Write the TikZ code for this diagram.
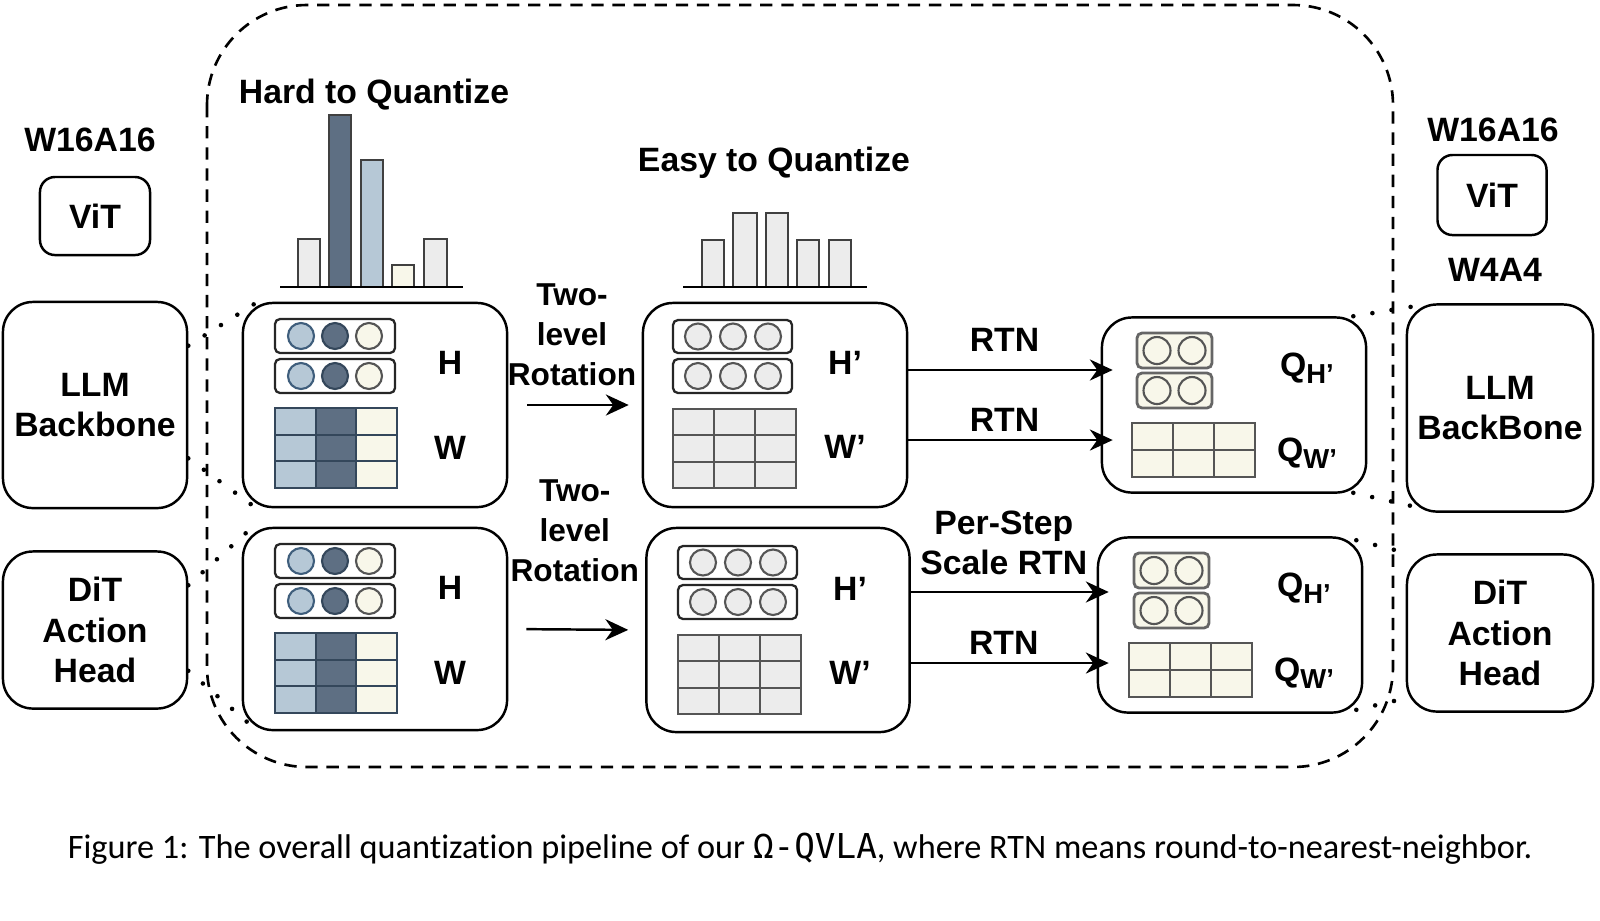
\documentclass[tikz,border=0pt]{standalone}
\usepackage{fontspec}
\setmainfont{Liberation Sans}[Ligatures=ResetAll]
\newfontfamily\capfont[Ligatures=NoCommon]{Carlito}
\newfontfamily\capmono{DejaVu Sans Mono}
\usetikzlibrary{positioning, arrows.meta, calc}

\definecolor{slateD}{HTML}{5E6F83}
\definecolor{slateL}{HTML}{B6C8D6}
\definecolor{creamC}{HTML}{F8F7EA}
\definecolor{grayL}{HTML}{ECECEC}
\definecolor{edgeB}{HTML}{3F5E7C}
\definecolor{edgeD}{HTML}{34475B}
\definecolor{edgeG}{HTML}{555555}

\begin{document}
\begin{tikzpicture}[
    x=0.01cm, y=-0.01cm,
    lbl/.style={font=\fontsize{9.6}{11.5}\selectfont\bfseries, align=center, inner sep=1pt},
    block/.style={lbl, draw, line width=0.7pt, rounded corners=0.3cm},
    smallblock/.style={block, rounded corners=0.15cm},
    stagebox/.style={draw, line width=0.7pt, rounded corners=0.3cm, minimum width=2.64cm},
    vecbox/.style={draw=black!85, fill=white, line width=0.65pt, rounded corners=0.05cm},
    qvec/.style={draw=black!60, fill=creamC, line width=0.8pt, rounded corners=0.05cm},
    dot/.style={line width=0.6pt},
    cell/.style={line width=0.6pt},
    bar/.style={draw=black!75, line width=0.5pt},
    axisline/.style={line width=0.7pt},
    arr/.style={-{Stealth[length=6.5pt, width=6pt]}, line width=0.7pt},
    zoomline/.style={line width=1.3pt, line cap=round, dash pattern=on 0pt off 5.5pt},
    frame/.style={line width=0.75pt, dash pattern=on 3.5pt off 2.5pt, rounded corners=1cm}
]
\useasboundingbox (0,0) rectangle (1600,920);

    % --- QUANTIZATION REGION ---
    \draw[frame] (207,5) rectangle (1393,767);

    % --- LEFT: FULL PRECISION ---
    \node[lbl] (w16L) at (90,140) {W16A16};
    \node[smallblock, minimum width=1.1cm, minimum height=0.78cm] (vitL) at (95,216) {ViT};
    \node[block, minimum width=1.84cm, minimum height=2.06cm] (llmL) at (95,405) {LLM\\Backbone};
    \node[block, minimum width=1.84cm, minimum height=1.57cm] (ditL) at (95,630) {DiT\\Action\\Head};

    % --- STAGE BOXES ---
    \node[stagebox, minimum height=2.04cm] (hardT) at (375,405) {};
    \node[stagebox, minimum height=2.02cm] (hardB) at (375,629) {};
    \node[stagebox, minimum height=2.04cm] (easyT) at (775,405) {};
    \node[stagebox, minimum width=2.63cm, minimum height=2.04cm] (easyB) at (778,630) {};
    \node[stagebox, minimum height=1.75cm] (quantT) at (1234,405) {};
    \node[stagebox, minimum height=1.75cm] (quantB) at (1230,625) {};

    % --- HISTOGRAMS ---
    \node[lbl] (hardTitle) at (374,95) {Hard to Quantize};
    \draw[bar, fill=grayL] (298,287) rectangle (320,239);
    \draw[bar, fill=slateD] (329,287) rectangle (351,115);
    \draw[bar, fill=slateL] (361,287) rectangle (383,160);
    \draw[bar, fill=creamC] (392,287) rectangle (414,265);
    \draw[bar, fill=grayL] (424,287) rectangle (447,239);
    \draw[axisline] (280,287) -- (463,287);

    \node[lbl] (easyTitle) at (774,163) {Easy to Quantize};
    \draw[bar, fill=grayL] (702,287) rectangle (724,240);
    \draw[bar, fill=grayL] (733,287) rectangle (757,213);
    \draw[bar, fill=grayL] (766,287) rectangle (788,213);
    \draw[bar, fill=grayL] (797,287) rectangle (819,240);
    \draw[bar, fill=grayL] (829,287) rectangle (851,240);
    \draw[axisline] (683,287) -- (867,287);

    % --- H AND W ---
    \foreach \dy in {0,225} {
      \begin{scope}[shift={(0,\dy)}]
        \draw[vecbox] (275,319) rectangle (395,353);
        \draw[vecbox] (275,359) rectangle (395,393);
        \foreach \cy in {336,376} {
          \draw[dot, fill=slateL, draw=edgeB] (301,\cy) circle[radius=13];
          \draw[dot, fill=slateD, draw=edgeD] (335,\cy) circle[radius=13];
          \draw[dot, fill=creamC, draw=edgeG] (369,\cy) circle[radius=13];
        }
        \foreach \i/\c in {0/slateL,1/slateD,2/creamC}
          \foreach \j in {0,1,2}
            \draw[cell, fill=\c, draw=edgeD] ({275+40.7*\i},{408+26.7*\j}) rectangle ++(40.7,26.7);
        \node[lbl] (hlab\dy) at (450,363) {H};
        \node[lbl] (wlab\dy) at (450,448) {W};
      \end{scope}
    }

    % --- ROTATED H' AND W' ---
    \foreach \dx/\dy in {0/0,5/226} {
      \begin{scope}[shift={(\dx,\dy)}]
        \draw[vecbox] (673,320) rectangle (792,353);
        \draw[vecbox] (673,359) rectangle (792,393);
        \foreach \cx in {698,733,768}
          \foreach \cy in {336.5,376}
            \draw[dot, fill=grayL, draw=edgeG] (\cx,\cy) circle[radius=13];
        \foreach \i in {0,1,2}
          \foreach \j in {0,1,2}
            \draw[cell, fill=grayL, draw=edgeG] ({673+41*\i},{409+26.3*\j}) rectangle ++(41,26.3);
        \node[lbl] (hplab\dy) at (845,363) {H'};
        \node[lbl] (wplab\dy) at (845,447) {W'};
      \end{scope}
    }

    % --- QUANTIZED ---
    \foreach \dx/\dy in {0/0,-3/220} {
      \begin{scope}[shift={(\dx,\dy)}]
        \draw[qvec] (1137,333) rectangle (1212,368);
        \draw[qvec] (1137,373) rectangle (1212,408);
        \foreach \cx in {1157,1192}
          \foreach \cy in {350.5,390.5}
            \draw[dot, fill=creamC, draw=edgeG] (\cx,\cy) circle[radius=13.5];
        \foreach \i in {0,1,2}
          \foreach \j in {0,1}
            \draw[cell, fill=creamC, draw=edgeG] ({1132+41*\i},{423+27*\j}) rectangle ++(41,27);
        \node[lbl] (qhlab\dy) at (1307,368) {Q{\fontsize{7.8}{8}\selectfont\raisebox{-0.45ex}{H'}}};
        \node[lbl] (qwlab\dy) at (1307,453) {Q{\fontsize{7.8}{8}\selectfont\raisebox{-0.45ex}{W'}}};
      \end{scope}
    }

    % --- ROTATION ARROWS ---
    \draw[arr, shorten <=0.19cm, shorten >=0.13cm] (hardT.east) -- (easyT.west)
        node[lbl, midway, xshift=-0.03cm, yshift=0.7cm, font=\fontsize{9}{11.4}\selectfont\bfseries] (rotT) {Two-\\level\\Rotation};
    \draw[arr, shorten <=0.18cm, shorten >=0.17cm] (hardB.east) -- (easyB.west)
        node[lbl, midway, xshift=-0.02cm, yshift=0.99cm, font=\fontsize{9}{11.4}\selectfont\bfseries] (rotB) {Two-\\level\\Rotation};

    % --- RTN ARROWS ---
    \coordinate (rtnA) at ([yshift=0.35cm]easyT.east);
    \coordinate (rtnB) at ([yshift=-0.35cm]easyT.east);
    \coordinate (rtnC) at ([yshift=0.38cm]easyB.east);
    \coordinate (rtnD) at ([yshift=-0.33cm]easyB.east);
    \draw[arr, shorten >=-0.12cm] (rtnA) -- (rtnA -| quantT.west) node[lbl, midway, above=4pt] (rtnAl) {RTN};
    \draw[arr, shorten >=-0.12cm] (rtnB) -- (rtnB -| quantT.west) node[lbl, midway, above=1pt] (rtnBl) {RTN};
    \draw[arr, shorten >=-0.12cm] (rtnC) -- (rtnC -| quantB.west) node[lbl, midway, above=3.5pt] (rtnCl) {Per-Step\\Scale RTN};
    \draw[arr, shorten >=-0.12cm] (rtnD) -- (rtnD -| quantB.west) node[lbl, midway, above=1pt] (rtnDl) {RTN};

    % --- RIGHT: QUANTIZED MODEL ---
    \node[lbl] (w16R) at (1493,130) {W16A16};
    \node[smallblock, minimum width=1.09cm, minimum height=0.8cm] (vitR) at (1492,195) {ViT};
    \node[lbl] (w4R) at (1495,270) {W4A4};
    \node[block, minimum width=1.86cm, minimum height=2.07cm] (llmR) at (1500,408) {LLM\\BackBone};
    \node[block, minimum width=1.86cm, minimum height=1.57cm] (ditR) at (1500,633) {DiT\\Action\\Head};

    % --- ZOOM LINES ---
    \draw[zoomline] ($(llmL.north east)+(0,45)$) -- ($(hardT.north west)+(13,2)$);
    \draw[zoomline] ($(llmL.south east)+(0,-51)$) -- ($(hardT.south west)+(12,-2)$);
    \draw[zoomline] ($(ditL.north east)+(0,35)$) -- ($(hardB.north west)+(9,2)$);
    \draw[zoomline] ($(ditL.south east)+(0,-39)$) -- ($(hardB.south west)+(7,-8)$);
    \draw[zoomline] ($(quantT.north east)+(-14,0)$) -- ($(llmR.north west)+(9,3)$);
    \draw[zoomline] ($(quantT.south east)+(-14,-1)$) -- ($(llmR.south west)+(5,-7)$);
    \draw[zoomline] ($(quantB.north east)+(-7,4)$) -- ($(ditR.north west)+(2,0)$);
    \draw[zoomline] ($(quantB.south east)+(-7,-4)$) -- ($(ditR.south west)+(2,-15)$);

    % --- CAPTION ---
    \node[font=\capfont\fontsize{9.75}{12}\selectfont, inner sep=0] (caption) at (800,849)
        {Figure 1: The overall quantization pipeline of our {\capmono Ω-QVLA}, where RTN means round-to-nearest-neighbor.};

\end{tikzpicture}
\end{document}
